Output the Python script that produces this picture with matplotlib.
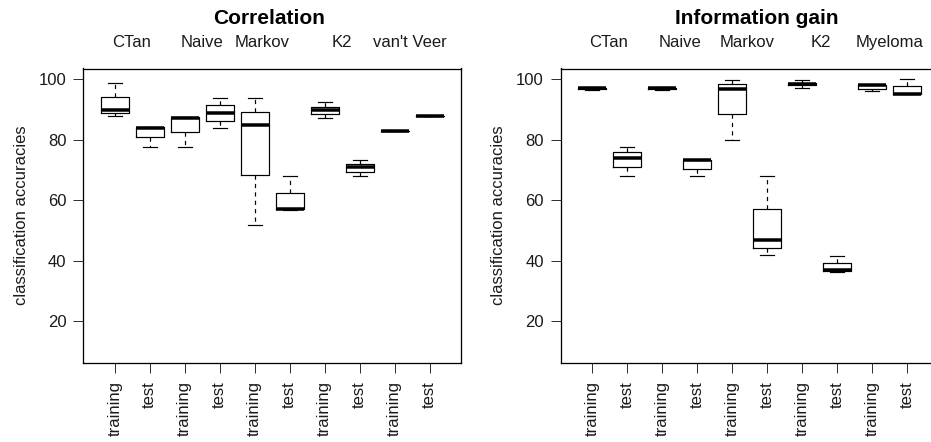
import matplotlib
matplotlib.use('Agg')
import matplotlib.pyplot as plt

plt.rcParams['font.family'] = ['Liberation Sans', 'DejaVu Sans']
plt.rcParams['font.size'] = 12

# x tick labels, one pair per method
TICK_LABELS = ['training', 'test'] * 5

# Correlation panel: five-number summaries
CORR_GROUPS = ['CTan', 'Naive', 'Markov', 'K2', "van't Veer"]
CORR_LO  = [87.9, 77.7, 77.7, 83.9, 52.0, 56.9, 87.1, 68.1, 82.9, 87.9]
CORR_Q1  = [88.9, 81.0, 82.6, 86.3, 68.4, 57.0, 88.5, 69.5, 82.9, 87.9]
CORR_MED = [90.0, 83.9, 87.2, 88.9, 85.0, 57.0, 90.0, 71.1, 82.9, 87.9]
CORR_Q3  = [94.2, 84.2, 87.4, 91.4, 89.3, 62.5, 90.9, 72.1, 82.9, 87.9]
CORR_HI  = [98.9, 84.3, 87.5, 93.9, 93.9, 68.1, 92.5, 73.2, 82.9, 87.9]

# Information gain panel
INFO_GROUPS = ['CTan', 'Naive', 'Markov', 'K2', 'Myeloma']
INFO_LO  = [96.5, 68.2, 96.5, 68.2, 79.8, 41.9, 97.2, 36.4, 96.1, 95.2]
INFO_Q1  = [96.7, 70.9, 96.7, 70.4, 88.4, 44.3, 98.0, 36.5, 96.9, 95.2]
INFO_MED = [97.0, 73.9, 97.0, 73.2, 96.7, 46.9, 98.5, 37.0, 98.0, 95.2]
INFO_Q3  = [97.2, 76.0, 97.2, 73.4, 98.5, 57.2, 98.9, 39.4, 98.3, 97.7]
INFO_HI  = [97.4, 77.8, 97.4, 73.4, 99.8, 68.1, 99.8, 41.5, 98.3, 100.1]

Y_TICKS = [20, 40, 60, 80, 100]

W, H = 931, 442
DPI = 100
PX = 72.0 / DPI  # points per pixel
TXT = '#1a1a1a'


def draw_panel(ax, title, groups, lo, q1, med, q3, hi, title_x, group_x):
    stats = []
    for a, b, c, d, e in zip(lo, q1, med, q3, hi):
        stats.append(dict(whislo=a, q1=b, med=c, q3=d, whishi=e, fliers=[]))
    pos = list(range(1, len(stats) + 1))
    ax.bxp(stats, positions=pos, widths=0.8, capwidths=0.4,
           showfliers=False, manage_ticks=False,
           boxprops=dict(color='black', linewidth=PX * 1.2),
           whiskerprops=dict(color='black', linewidth=PX * 1.2,
                             linestyle=(0, (3.5, 3.5))),
           capprops=dict(color='black', linewidth=PX * 1.2),
           medianprops=dict(color='black', linewidth=PX * 3.5,
                            solid_capstyle='butt'))

    ax.set_xlim(0.1, 10.9)
    ax.set_ylim(6.4, 103.6)
    ax.set_xticks(pos)
    ax.set_xticklabels(TICK_LABELS, rotation=90, va='top')
    ax.set_yticks(Y_TICKS)
    ax.tick_params(axis='both', direction='out', length=10 * PX,
                   width=PX, color='#333333', labelsize=12,
                   labelcolor=TXT)
    ax.tick_params(axis='x', pad=9 * PX)
    ax.tick_params(axis='y', pad=7 * PX)
    for sp in ax.spines.values():
        sp.set_linewidth(PX * 1.3)
        sp.set_color('black')

    ax.set_ylabel('classification accuracies', fontsize=12, color=TXT)
    ax.yaxis.set_label_coords(-0.145, 0.5)

    ax.text(title_x, 1.15, title, transform=ax.transAxes, ha='center',
            va='baseline', fontsize=15, fontweight='bold', color='black')
    for g, gx in zip(groups, group_x):
        ax.text(gx, 1.073, g, transform=ax.get_xaxis_transform(),
                ha='center', va='baseline', fontsize=12, color=TXT)


fig = plt.figure(figsize=(W / DPI, H / DPI), dpi=DPI)

ax_w = (461 - 83.3) / W
ax_b = (H - 362.5) / H
ax_h = (362.5 - 68.5) / H
ax1 = fig.add_axes([83.3 / W, ax_b, ax_w, ax_h])
ax2 = fig.add_axes([560.8 / W, ax_b, ax_w, ax_h])

draw_panel(ax1, 'Correlation', CORR_GROUPS,
           CORR_LO, CORR_Q1, CORR_MED, CORR_Q3, CORR_HI,
           0.492, [1.49, 3.48, 5.2, 7.49, 9.43])
draw_panel(ax2, 'Information gain', INFO_GROUPS,
           INFO_LO, INFO_Q1, INFO_MED, INFO_Q3, INFO_HI,
           0.519, [1.47, 3.5, 5.42, 7.54, 9.49])

fig.savefig('out.png', dpi=DPI, facecolor='white')
